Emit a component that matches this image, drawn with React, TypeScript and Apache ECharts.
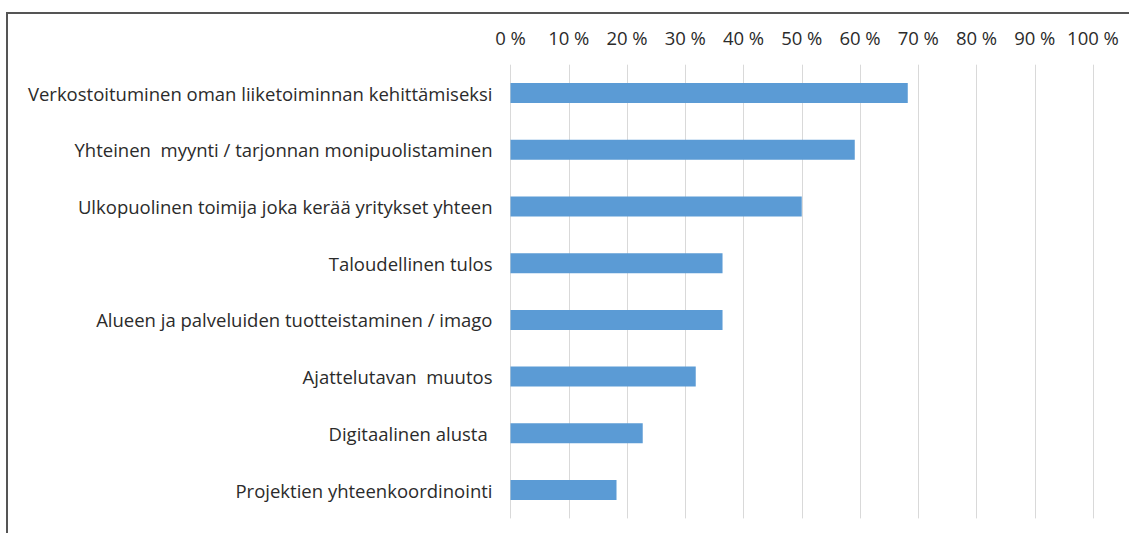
import React, { useEffect, useRef } from "react";
import * as echarts from "echarts";

const categories: string[] = [
  "Verkostoituminen oman liiketoiminnan kehittämiseksi",
  "Yhteinen  myynti / tarjonnan monipuolistaminen",
  "Ulkopuolinen toimija joka kerää yritykset yhteen",
  "Taloudellinen tulos",
  "Alueen ja palveluiden tuotteistaminen / imago",
  "Ajattelutavan  muutos",
  "Digitaalinen alusta ",
  "Projektien yhteenkoordinointi",
];

const values: number[] = [68.2, 59.1, 50.0, 36.4, 36.4, 31.8, 22.7, 18.2];

const FONT = "Open Sans";
const TEXT = "#2b2b2b";

export default function App() {
  const ref = useRef<HTMLDivElement>(null);

  useEffect(() => {
    if (!ref.current) return;
    const chart = echarts.init(ref.current, undefined, { renderer: "svg" });
    chart.setOption({
      animation: false,
      backgroundColor: "#ffffff",
      grid: { left: 510.5, right: 36, top: 64.7, bottom: 14.6, containLabel: false },
      xAxis: {
        type: "value",
        position: "top",
        min: 0,
        max: 100,
        interval: 10,
        axisLine: { show: false },
        axisTick: { show: false },
        axisLabel: {
          formatter: "{value} %",
          color: TEXT,
          fontFamily: FONT,
          fontSize: 18.5,
          margin: 18,
        },
        splitLine: { show: true, lineStyle: { color: "#d9d9d9", width: 1 } },
      },
      yAxis: {
        type: "category",
        inverse: true,
        data: categories,
        axisLine: { show: false },
        axisTick: { show: false },
        splitLine: { show: false },
        axisLabel: {
          color: TEXT,
          fontFamily: FONT,
          fontSize: 18.5,
          margin: 18,
        },
      },
      series: [
        {
          type: "bar",
          data: values,
          barWidth: 20,
          itemStyle: { color: "#5b9bd5" },
        },
      ],
      graphic: [
        {
          type: "rect",
          silent: true,
          shape: { x: 7, y: 13, width: 1200, height: 600 },
          style: { fill: "none", stroke: "#555555", lineWidth: 2 },
        },
      ],
    });
    return () => chart.dispose();
  }, []);

  return (
    <div
      ref={ref}
      style={{ position: "fixed", left: 0, top: 0, width: 1129, height: 533 }}
    />
  );
}
